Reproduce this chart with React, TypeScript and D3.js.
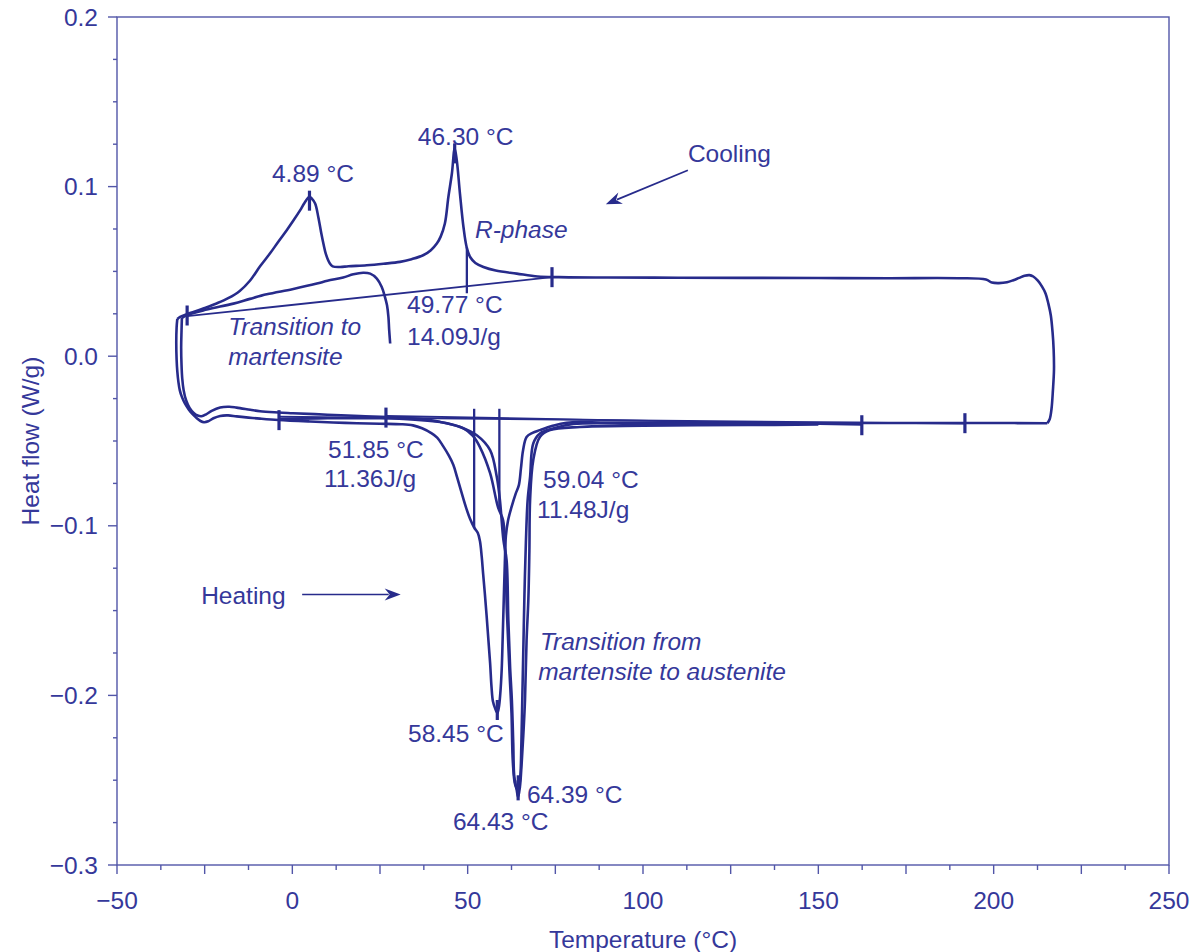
import React from 'react';
import * as d3 from 'd3';

type Pt = [number, number];

// Axis setup
const X_DOMAIN: [number, number] = [-50, 250];
const Y_DOMAIN: [number, number] = [-0.3, 0.2];
const X_TICKS = [-50, 0, 50, 100, 150, 200, 250];
const X_TICK_LABELS = ['\u221250', '0', '50', '100', '150', '200', '250'];
const Y_TICKS = [0.2, 0.1, 0.0, -0.1, -0.2, -0.3];
const Y_TICK_LABELS = ['0.2', '0.1', '0.0', '\u22120.1', '\u22120.2', '\u22120.3'];
const X_TITLE = 'Temperature (\u00b0C)';
const Y_TITLE = 'Heat flow (W/g)';

// Cooling run with R-phase and martensite peaks (temperature °C, heat flow W/g)
const coolingR: Pt[] = [
  [215.3, -0.0395], [216.0, -0.037], [216.5, -0.031], [216.9, -0.02], [217.2, -0.008],
  [217.1, 0.004], [216.8, 0.014], [216.3, 0.024], [215.6, 0.031], [214.8, 0.037],
  [213.8, 0.041], [212.6, 0.0445], [211.3, 0.047], [210.2, 0.0478], [208.8, 0.0474],
  [207.3, 0.0462], [205.6, 0.0448], [203.8, 0.0436], [201.5, 0.0431], [199.5, 0.0434],
  [197.8, 0.0452], [190, 0.046], [170, 0.046], [150, 0.0461], [130, 0.0462],
  [110, 0.0463], [90, 0.0464], [76, 0.0466], [70, 0.047], [64, 0.0487], [58, 0.0505],
  [54.5, 0.0526], [52.2, 0.055], [50.7, 0.0585], [49.7, 0.0644], [48.8, 0.0762],
  [47.8, 0.0959], [46.9, 0.1155], [46.3, 0.1225], [45.5, 0.1077], [44.5, 0.0939],
  [43.5, 0.0782], [42.3, 0.0705], [41.2, 0.0664], [39.5, 0.0625], [37.3, 0.0595],
  [34, 0.0572], [30.7, 0.0556], [26, 0.0545], [21.2, 0.0536], [16, 0.053],
  [13.6, 0.0526], [11.5, 0.053], [10.6, 0.055], [9.6, 0.06], [8.9, 0.066],
  [8.3, 0.072], [7.4, 0.0821], [6.5, 0.09], [5.5, 0.093], [4.89, 0.094],
  [3.5, 0.0905], [2.2, 0.086], [0.3, 0.08], [-1.6, 0.0743], [-4, 0.0675],
  [-6.4, 0.0605], [-9.2, 0.053], [-12.1, 0.0445], [-15, 0.0385], [-18.3, 0.0342],
  [-21.6, 0.0311], [-25, 0.0284], [-28, 0.0262], [-30.1, 0.0248], [-32.0, 0.0232],
  [-32.8, 0.022],
];

// Partial cooling trace: transition to martensite
const coolingM: Pt[] = [
  [27.9, 0.0075], [27.6, 0.016], [27.4, 0.0232], [27.0, 0.03], [26.4, 0.035],
  [25.5, 0.0408], [24.1, 0.0458], [22.2, 0.0487], [20.2, 0.0492], [17.4, 0.0483],
  [14.5, 0.0464], [10.0, 0.0445], [7.0, 0.0428], [0.0, 0.0395], [-7.3, 0.0365],
  [-12.1, 0.0338], [-16.8, 0.031], [-24.4, 0.0275], [-30.1, 0.0242], [-31.5, 0.0225],
];

// Heating run, peak at 58.45 °C
const heating1: Pt[] = [
  [-32.8, 0.022], [-33.0, 0.017], [-33.1, 0.008], [-33.0, -0.002], [-32.8, -0.009],
  [-32.5, -0.015], [-32.1, -0.02], [-31.5, -0.024], [-30.6, -0.028], [-29.5, -0.0315],
  [-28.3, -0.0345], [-27.3, -0.0365], [-26.2, -0.0382], [-25.2, -0.0389], [-24.0, -0.0384],
  [-22.5, -0.0366], [-20.6, -0.0352], [-18.3, -0.0349], [-15.9, -0.0355], [-12.5, -0.0362],
  [-9.2, -0.0368], [-4.0, -0.0376], [5.0, -0.0385], [15.0, -0.0393], [25.0, -0.0398],
  [31.0, -0.0401], [34.4, -0.0408], [37.0, -0.0425], [39.5, -0.0452], [41.3, -0.048],
  [43.0, -0.053], [44.6, -0.0585], [45.9, -0.064], [47.0, -0.0715], [48.2, -0.08],
  [49.5, -0.089], [50.7, -0.096], [51.85, -0.101], [52.9, -0.1043], [53.5, -0.109],
  [54.0, -0.118], [54.4, -0.128], [54.9, -0.14], [55.4, -0.153], [55.9, -0.167],
  [56.4, -0.181], [56.8, -0.195], [57.2, -0.2035], [57.8, -0.2075], [58.45, -0.2104],
  [58.9, -0.207], [59.3, -0.199], [59.7, -0.185], [60.0, -0.165], [60.3, -0.143],
  [60.6, -0.122], [60.9, -0.106], [61.5, -0.097], [62.5, -0.089], [63.7, -0.081],
  [64.6, -0.076], [65.2, -0.066], [65.8, -0.0554], [66.8, -0.0476], [68.5, -0.0452],
  [70.6, -0.0436], [74.0, -0.0412], [78.2, -0.0392], [90.0, -0.0391], [120.0, -0.0393],
  [150.0, -0.0394], [180.0, -0.0394], [200.0, -0.0394], [215.3, -0.0395],
];

// Heating run, peak at 64.39 °C
const heating2: Pt[] = [
  [-31.5, 0.0225], [-31.6, 0.015], [-31.7, 0.005], [-31.6, -0.005], [-31.4, -0.013],
  [-31.0, -0.02], [-30.3, -0.026], [-29.3, -0.0305], [-28.2, -0.0333], [-27.0, -0.035],
  [-25.9, -0.0354], [-24.6, -0.0343], [-23.0, -0.0322], [-20.6, -0.0302], [-18.0, -0.0298],
  [-15.9, -0.0303], [-12.0, -0.0316], [-9.2, -0.0325], [-4.0, -0.0332], [0.2, -0.0336],
  [10.0, -0.0345], [19.3, -0.0353], [30.0, -0.0362], [38.0, -0.0374], [42.1, -0.0387],
  [47.8, -0.0417], [52.6, -0.0466], [56.4, -0.0554], [58.3, -0.0711], [59.2, -0.0849],
  [60.2, -0.1084], [61.1, -0.1202], [61.6, -0.1556], [62.1, -0.1833], [62.6, -0.2027],
  [63.0, -0.2281], [63.3, -0.248], [64.0, -0.256], [64.39, -0.26], [64.9, -0.254],
  [65.4, -0.2399], [65.9, -0.2222], [66.35, -0.2027], [66.8, -0.1674], [67.3, -0.1438],
  [67.6, -0.115], [67.8, -0.0849], [68.7, -0.0613], [70.6, -0.0476], [73.5, -0.0436],
  [82.0, -0.0417], [100.0, -0.041], [130.0, -0.0406], [150.0, -0.0403],
];

// Heating run, peak at 64.43 °C
const heating3: Pt[] = [
  [-3.8, -0.0372], [10.0, -0.0366], [25.0, -0.0366], [35.0, -0.0375], [44.1, -0.0395],
  [48.7, -0.0424], [51.5, -0.047], [53.5, -0.0536], [56.4, -0.069], [58.65, -0.089],
  [60.1, -0.0967], [60.65, -0.1126], [61.2, -0.1515], [61.9, -0.185], [62.5, -0.2104],
  [62.9, -0.2399], [63.6, -0.253], [64.43, -0.2555], [65.0, -0.248], [65.3, -0.23],
  [65.6, -0.2], [65.9, -0.17], [66.2, -0.14], [66.6, -0.11], [67.1, -0.085],
  [67.8, -0.0711], [68.7, -0.0515], [70.6, -0.0456], [74.4, -0.0426], [80.1, -0.04],
  [100.0, -0.0398], [150.0, -0.0397],
];

// Integration baselines
const coolBaseline: Pt[] = [[-30.0, 0.0236], [74.05, 0.0466]];
const heatBaselineA: Pt[] = [[-3.8, -0.0357], [191.8, -0.0398]];
const heatBaselineB: Pt[] = [[26.7, -0.0352], [162.4, -0.0405]];

// Partial-area drop lines: temperature, upper and lower heat flow
const dropLines: [number, number, number][] = [
  [49.77, 0.0644, 0.0371],
  [51.85, -0.031, -0.101],
  [59.04, -0.031, -0.09],
];

// Limit / peak markers
const markers: Pt[] = [
  [-30.0, 0.024], [74.05, 0.0466], [4.89, 0.0917], [46.3, 0.1196],
  [-3.8, -0.0377], [26.7, -0.0362], [162.4, -0.0407], [191.8, -0.0395],
  [58.45, -0.2086], [64.39, -0.256], [64.43, -0.253],
];

// Annotations: text, temperature, heat flow (baseline-left anchor), italic
const notes: [string, number, number, boolean][] = [
  ['4.89 \u00b0C', -5.8, 0.1026, false],
  ['46.30 \u00b0C', 35.8, 0.1244, false],
  ['Cooling', 112.8, 0.1143, false],
  ['R-phase', 52.1, 0.0695, true],
  ['Transition to', -18.3, 0.0124, true],
  ['martensite', -18.3, -0.0053, true],
  ['49.77 \u00b0C', 32.7, 0.0253, false],
  ['14.09J/g', 32.7, 0.0065, false],
  ['51.85 \u00b0C', 10.2, -0.0601, false],
  ['11.36J/g', 9.0, -0.0772, false],
  ['59.04 \u00b0C', 71.5, -0.0778, false],
  ['11.48J/g', 69.8, -0.0955, false],
  ['Heating', -26.0, -0.1462, false],
  ['Transition from', 70.6, -0.1733, true],
  ['martensite to austenite', 70.1, -0.191, true],
  ['58.45 \u00b0C', 33.0, -0.2275, false],
  ['64.39 \u00b0C', 66.9, -0.2635, false],
  ['64.43 \u00b0C', 45.8, -0.2794, false],
];

// Arrows: from (T, HF) to (T, HF)
const arrows: [Pt, Pt][] = [
  [[112.8, 0.1096], [89.4, 0.0896]],
  [[2.8, -0.1405], [30.9, -0.1405]],
];

const W = 1194;
const H = 952;
const LINE = '#272b8b';
const TEXT = '#35389a';
const AXIS = '#5256a8';
const FONT = '"Liberation Sans", Arial, Helvetica, sans-serif';
const FS = 24.5;

export default function App() {
  const x = d3.scaleLinear().domain(X_DOMAIN).range([117, 1169]);
  const y = d3.scaleLinear().domain(Y_DOMAIN).range([865, 17]);
  const line = d3
    .line<Pt>()
    .x((d) => x(d[0]))
    .y((d) => y(d[1]))
    .curve(d3.curveCatmullRom.alpha(0.5));
  const straight = d3
    .line<Pt>()
    .x((d) => x(d[0]))
    .y((d) => y(d[1]));

  const xMinor = d3.range(X_DOMAIN[0], X_DOMAIN[1] + 0.001, 12.5);
  const yMinor = d3.range(Y_DOMAIN[0], Y_DOMAIN[1] + 0.0001, 0.025);

  const curves = [coolingR, coolingM, heating1, heating2, heating3];

  return (
    <svg
      width={W}
      height={H}
      style={{ position: 'absolute', left: 0, top: 0, background: '#fff' }}
      fontFamily={FONT}
    >
      <rect x={0} y={0} width={W} height={H} fill="#fff" />
      {/* frame */}
      <rect
        x={x(X_DOMAIN[0])}
        y={y(Y_DOMAIN[1])}
        width={x(X_DOMAIN[1]) - x(X_DOMAIN[0])}
        height={y(Y_DOMAIN[0]) - y(Y_DOMAIN[1])}
        fill="none"
        stroke={AXIS}
        strokeWidth={1.4}
      />
      {/* x ticks */}
      {xMinor.map((v) => {
        const long = Math.abs(v / 25 - Math.round(v / 25)) < 1e-6;
        return (
          <line
            key={'xt' + v}
            x1={x(v)}
            x2={x(v)}
            y1={y(Y_DOMAIN[0])}
            y2={y(Y_DOMAIN[0]) + (long ? 9 : 5)}
            stroke={AXIS}
            strokeWidth={1.4}
          />
        );
      })}
      {/* y ticks */}
      {yMinor.map((v) => {
        const major = Math.abs(v / 0.1 - Math.round(v / 0.1)) < 1e-6;
        return (
          <line
            key={'yt' + v.toFixed(3)}
            x1={x(X_DOMAIN[0]) - (major ? 9 : 4)}
            x2={x(X_DOMAIN[0])}
            y1={y(v)}
            y2={y(v)}
            stroke={AXIS}
            strokeWidth={1.4}
          />
        );
      })}
      {X_TICKS.map((v, i) => (
        <text key={'xl' + v} x={x(v)} y={909} textAnchor="middle" fontSize={FS} fill={TEXT}>
          {X_TICK_LABELS[i]}
        </text>
      ))}
      {Y_TICKS.map((v, i) => (
        <text key={'yl' + v} x={98} y={y(v) + 8.5} textAnchor="end" fontSize={FS} fill={TEXT}>
          {Y_TICK_LABELS[i]}
        </text>
      ))}
      <text x={643} y={948} textAnchor="middle" fontSize={FS} fill={TEXT}>
        {X_TITLE}
      </text>
      <text
        transform={`translate(39, 441) rotate(-90)`}
        textAnchor="middle"
        fontSize={FS}
        fill={TEXT}
      >
        {Y_TITLE}
      </text>

      {/* baselines */}
      {[coolBaseline, heatBaselineA, heatBaselineB].map((b, i) => (
        <path key={'bl' + i} d={straight(b) || ''} fill="none" stroke={LINE} strokeWidth={1.8} />
      ))}
      {/* curves */}
      {curves.map((c, i) => (
        <path
          key={'c' + i}
          d={line(c) || ''}
          fill="none"
          stroke={LINE}
          strokeWidth={2.6}
          strokeLinejoin="round"
        />
      ))}
      {/* drop lines */}
      {dropLines.map(([t, a, b]) => (
        <line key={'dl' + t} x1={x(t)} x2={x(t)} y1={y(a)} y2={y(b)} stroke={LINE} strokeWidth={2.3} />
      ))}
      {/* markers */}
      {markers.map(([t, v], i) => (
        <line
          key={'mk' + i}
          x1={x(t)}
          x2={x(t)}
          y1={y(v) - 10}
          y2={y(v) + 10}
          stroke={LINE}
          strokeWidth={3.2}
        />
      ))}
      {/* arrows */}
      {arrows.map(([a, b], i) => {
        const x1 = x(a[0]);
        const y1 = y(a[1]);
        const x2 = x(b[0]);
        const y2 = y(b[1]);
        const ang = Math.atan2(y2 - y1, x2 - x1);
        const L = 16;
        const Wd = 6;
        const bx = x2 - L * Math.cos(ang);
        const by = y2 - L * Math.sin(ang);
        const px = -Math.sin(ang) * Wd;
        const py = Math.cos(ang) * Wd;
        return (
          <g key={'ar' + i}>
            <line x1={x1} y1={y1} x2={bx + 4 * Math.cos(ang)} y2={by + 4 * Math.sin(ang)} stroke={LINE} strokeWidth={1.7} />
            <path
              d={`M${x2},${y2} L${bx + px},${by + py} L${bx + 5 * Math.cos(ang)},${by + 5 * Math.sin(ang)} L${bx - px},${by - py} Z`}
              fill={LINE}
            />
          </g>
        );
      })}
      {/* annotations */}
      {notes.map(([txt, t, v, it], i) => (
        <text
          key={'n' + i}
          x={x(t)}
          y={y(v)}
          fontSize={FS}
          fill={TEXT}
          fontStyle={it ? 'italic' : 'normal'}
        >
          {txt}
        </text>
      ))}
    </svg>
  );
}
